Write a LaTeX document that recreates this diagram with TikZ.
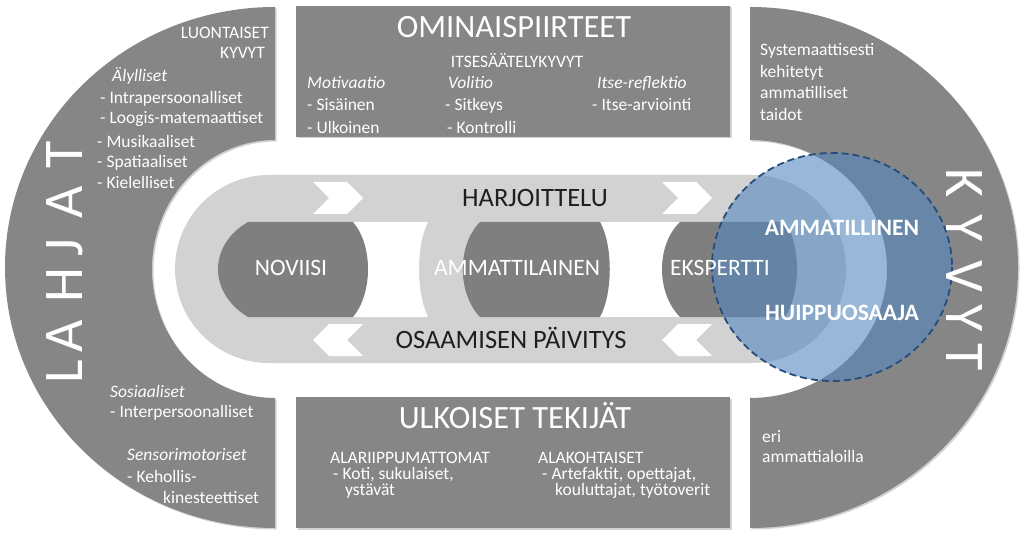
\documentclass[tikz,border=0pt]{standalone}
\usepackage{fontspec}
\setmainfont{Carlito}
\usetikzlibrary{shadows}

\definecolor{bandgray}{RGB}{134,134,134}
\definecolor{lightband}{RGB}{210,210,210}
\definecolor{stagegray}{RGB}{127,127,127}
\definecolor{ringblue}{RGB}{85,135,190}
\definecolor{ringedge}{RGB}{38,78,124}

\tikzset{
  band/.style={fill=bandgray, drop shadow={shadow xshift=1.5pt, shadow yshift=-1.5pt, opacity=.35}},
  stage/.style={fill=stagegray},
  sidetxt/.style={text=white, font=\fontsize{17.5}{21}\selectfont, inner sep=0pt, anchor=base west},
  headtxt/.style={text=white, font=\fontsize{32.5}{38}\selectfont, inner sep=0pt, anchor=base},
  barlbl/.style={text=black!88, font=\fontsize{26.5}{30}\selectfont, inner sep=0pt, anchor=base},
  stagelbl/.style={text=white, font=\fontsize{23.5}{28}\selectfont, inner sep=0pt, anchor=base},
  goallbl/.style={stagelbl, font=\bfseries\fontsize{23.5}{28}\selectfont},
  bigletter/.style={text=white, font=\fontsize{56}{60}\selectfont, inner sep=0pt}
}

\begin{document}
\begin{tikzpicture}[x=1pt,y=-1pt]
  \fill[white] (0,0) rectangle (1024,537);
  \useasboundingbox (0,0) rectangle (1024,537);

  % outer ring: two half rings and two boxes
  \path[band] (275,7) arc[start angle=270, end angle=90, x radius=270, y radius=260.5]
    -- (275,398) arc[start angle=90, end angle=270, x radius=123, y radius=129] -- cycle;
  \path[band] (750,7) arc[start angle=-90, end angle=90, x radius=268, y radius=260.5]
    -- (750,398) arc[start angle=90, end angle=-90, x radius=137, y radius=129] -- cycle;
  \path[band] (296,6) rectangle (730,137);
  \path[band] (296,397) rectangle (730,528);

  % inner track
  \fill[lightband] (269,175) -- (752,175) arc[start angle=-90, end angle=90, radius=94]
    -- (269,363) arc[start angle=90, end angle=270, radius=94] -- cycle;
  \fill[white] (350,222) -- (428,222) .. controls (416,245) and (416,293) .. (428,317) -- (350,317) -- cycle;
  \fill[white] (596,222) rectangle (684,317);

  % stages
  \fill[stage] (248,222) -- (353,222) .. controls (373,245) and (373,293) .. (353,317)
    -- (248,317) .. controls (208,293) and (208,245) .. (248,222) -- cycle;
  \fill[stage] (480,222) -- (600,222) .. controls (613,245) and (613,293) .. (600,317)
    -- (480,317) .. controls (457,293) and (457,245) .. (480,222) -- cycle;
  \fill[stage] (680,222) -- (785,222) .. controls (801,245) and (801,293) .. (785,317)
    -- (680,317) .. controls (656,293) and (656,245) .. (680,222) -- cycle;

  % chevrons
  \foreach \dx in {0,349} {
    \fill[white] (313+\dx,182) -- (347+\dx,182) -- (363+\dx,198) -- (347+\dx,214) -- (313+\dx,214) -- (329+\dx,198) -- cycle;
    \fill[white] (363+\dx,324) -- (329+\dx,324) -- (313+\dx,340) -- (329+\dx,356) -- (363+\dx,356) -- (347+\dx,340) -- cycle;
  }

  % top expert ring
  \path[fill=ringblue, fill opacity=.6, draw=ringedge, line width=1.8pt, dash pattern=on 7pt off 4pt]
    (832,267) ellipse [x radius=120, y radius=114];

  % big side words
  \foreach \l/\y [count=\i] in {L/372, A/336, H/285, J/248, A/202, T/155}
    \node[bigletter, rotate=90] (lahja\i) at (65,\y) {\l};
  \foreach \l/\y [count=\i] in {K/183, Y/228, V/276, Y/318, T/357}
    \node[bigletter, rotate=-90] (kyky\i) at (964,\y) {\l};

  % headings
  \node[headtxt] (omin) at (514,27+10.5) {OMINAISPIIRTEET};
  \node[headtxt] (ulko) at (515,418+10.5) {ULKOISET TEKIJÄT};
  \node[sidetxt, anchor=base] (itse) at (517,62+5.5) {ITSESÄÄTELYKYVYT};
  \node[sidetxt, anchor=base east] (luont) at (269,33+5.5) {LUONTAISET};
  \node[sidetxt, anchor=base east] (kyvyt) at (265,53+5.5) {KYVYT};

  % left ring texts
  \foreach \x/\y/\t [count=\i] in {112/76/{\itshape Älylliset}, 100/98/{- Intrapersoonalliset},
      100/118/{- Loogis-matemaattiset}, 97/142/{- Musikaaliset}, 97/162/{- Spatiaaliset},
      97/183/{- Kielelliset}, 110/392/{\itshape Sosiaaliset}, 110/412/{- Interpersoonalliset},
      127/455/{\itshape Sensorimotoriset}, 127/477/{- Kehollis-}, 163/498/{kinesteettiset}}
    \node[sidetxt] (lahjat\i) at (\x,\y+5.5) {\t};

  % top box texts
  \foreach \x/\y/\t [count=\i] in {307/83/{\itshape Motivaatio}, 307/105/{- Sisäinen}, 307/128/{- Ulkoinen},
      448/83/{\itshape Volitio}, 445/105/{- Sitkeys}, 447/128/{- Kontrolli},
      597/83/{\itshape Itse-reflektio}, 592/105/{- Itse-arviointi}}
    \node[sidetxt] (piirre\i) at (\x,\y+5.5) {\t};

  % right ring texts
  \foreach \x/\y/\t [count=\i] in {760/50/Systemaattisesti, 760/72/kehitetyt, 760/93/ammatilliset,
      760/115/taidot, 762/437/eri, 762/457/ammattialoilla}
    \node[sidetxt] (kyvyt\i) at (\x,\y+5.5) {\t};

  % bottom box texts
  \foreach \x/\y/\t [count=\i] in {330/458/ALARIIPPUMATTOMAT, 333/474/{- Koti, sukulaiset,}, 345/490/ystävät,
      538/458/ALAKOHTAISET, 542/474/{- Artefaktit, opettajat,}, 555/490/{kouluttajat, työtoverit}}
    \node[sidetxt] (tekija\i) at (\x,\y+5.5) {\t};

  % track labels
  \node[barlbl] (harj) at (535,198+8.5) {HARJOITTELU};
  \node[barlbl] (paiv) at (511,340+8.5) {OSAAMISEN PÄIVITYS};
  \node[stagelbl] (noviisi) at (291,268+7.6) {NOVIISI};
  \node[stagelbl] (ammlainen) at (517,268+7.6) {AMMATTILAINEN};
  \node[stagelbl] (ekspertti) at (720,268+7.6) {EKSPERTTI};
  \node[goallbl] (ammlinen) at (842,228+7.6) {AMMATILLINEN};
  \node[goallbl] (huippu) at (842,313+7.6) {HUIPPUOSAAJA};
\end{tikzpicture}
\end{document}
